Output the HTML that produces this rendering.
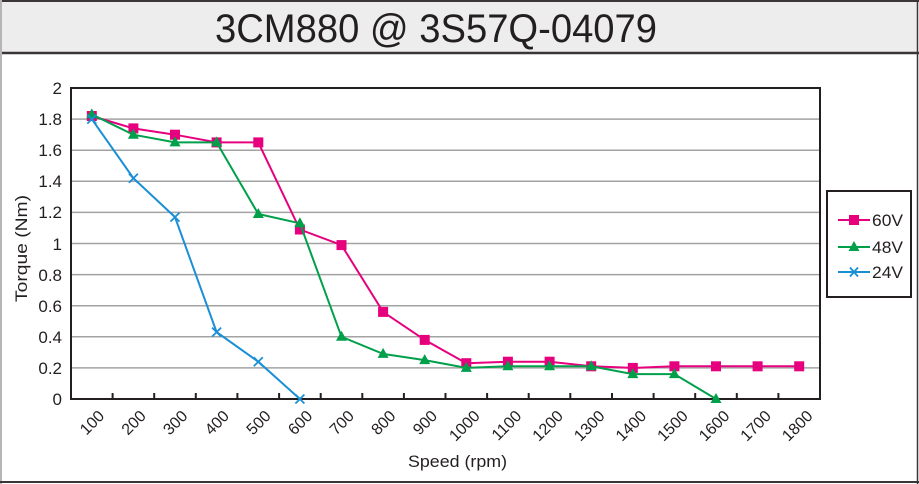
<!DOCTYPE html>
<html><head><meta charset="utf-8"><style>
html,body{margin:0;padding:0;background:#fff;}
svg{display:block;}
text{font-family:"Liberation Sans","Noto Sans CJK JP",sans-serif;fill:#231f20;}
</style></head><body>
<svg width="919" height="484" viewBox="0 0 919 484" xmlns="http://www.w3.org/2000/svg">
<rect x="0" y="0" width="919" height="484" fill="#fff"/>
<!-- title bar -->
<rect x="1" y="1" width="916" height="52" fill="#ecedec"/>
<line x1="0" y1="1" x2="919" y2="1" stroke="#3a3536" stroke-width="2"/>
<line x1="0" y1="53" x2="919" y2="53" stroke="#3a3536" stroke-width="2.5"/>
<line x1="1" y1="0" x2="1" y2="484" stroke="#b5b5b5" stroke-width="2"/>
<line x1="917.5" y1="0" x2="917.5" y2="484" stroke="#3a3536" stroke-width="1.5"/>
<line x1="0" y1="482" x2="919" y2="482" stroke="#3a3536" stroke-width="2"/>
<text x="215" y="42" font-size="40" textLength="442" lengthAdjust="spacingAndGlyphs">3CM880 @ 3S57Q-04079</text>

<!-- gridlines -->
<g stroke="#a3a3a3" stroke-width="1.5">
<line x1="71" y1="367.9" x2="820" y2="367.9"/>
<line x1="71" y1="336.8" x2="820" y2="336.8"/>
<line x1="71" y1="305.7" x2="820" y2="305.7"/>
<line x1="71" y1="274.6" x2="820" y2="274.6"/>
<line x1="71" y1="243.5" x2="820" y2="243.5"/>
<line x1="71" y1="212.4" x2="820" y2="212.4"/>
<line x1="71" y1="181.3" x2="820" y2="181.3"/>
<line x1="71" y1="150.2" x2="820" y2="150.2"/>
<line x1="71" y1="119.1" x2="820" y2="119.1"/>
</g>
<!-- plot border -->
<rect x="71" y="88" width="749" height="311" fill="none" stroke="#231f20" stroke-width="2"/>
<!-- x ticks -->
<g stroke="#231f20" stroke-width="2">
<line x1="112.6" y1="393" x2="112.6" y2="399"/>
<line x1="154.2" y1="393" x2="154.2" y2="399"/>
<line x1="195.8" y1="393" x2="195.8" y2="399"/>
<line x1="237.4" y1="393" x2="237.4" y2="399"/>
<line x1="279.1" y1="393" x2="279.1" y2="399"/>
<line x1="320.7" y1="393" x2="320.7" y2="399"/>
<line x1="362.3" y1="393" x2="362.3" y2="399"/>
<line x1="403.9" y1="393" x2="403.9" y2="399"/>
<line x1="445.5" y1="393" x2="445.5" y2="399"/>
<line x1="487.1" y1="393" x2="487.1" y2="399"/>
<line x1="528.7" y1="393" x2="528.7" y2="399"/>
<line x1="570.3" y1="393" x2="570.3" y2="399"/>
<line x1="612.0" y1="393" x2="612.0" y2="399"/>
<line x1="653.6" y1="393" x2="653.6" y2="399"/>
<line x1="695.2" y1="393" x2="695.2" y2="399"/>
<line x1="736.8" y1="393" x2="736.8" y2="399"/>
<line x1="778.4" y1="393" x2="778.4" y2="399"/>
</g>
<!-- y labels -->
<g font-size="17" text-anchor="end">
<text x="62" y="405">0</text>
<text x="62" y="374">0.2</text>
<text x="62" y="343">0.4</text>
<text x="62" y="312">0.6</text>
<text x="62" y="281">0.8</text>
<text x="62" y="250">1</text>
<text x="62" y="218">1.2</text>
<text x="62" y="187">1.4</text>
<text x="62" y="156">1.6</text>
<text x="62" y="125">1.8</text>
<text x="62" y="94">2</text>
</g>
<!-- x labels -->
<g font-size="16" text-anchor="end">
<text transform="translate(105.3,417) rotate(-45)">100</text>
<text transform="translate(146.9,417) rotate(-45)">200</text>
<text transform="translate(188.5,417) rotate(-45)">300</text>
<text transform="translate(230.1,417) rotate(-45)">400</text>
<text transform="translate(271.8,417) rotate(-45)">500</text>
<text transform="translate(313.4,417) rotate(-45)">600</text>
<text transform="translate(355.0,417) rotate(-45)">700</text>
<text transform="translate(396.6,417) rotate(-45)">800</text>
<text transform="translate(438.2,417) rotate(-45)">900</text>
<text transform="translate(480.8,417) rotate(-45)">1000</text>
<text transform="translate(522.4,417) rotate(-45)">1100</text>
<text transform="translate(564.1,417) rotate(-45)">1200</text>
<text transform="translate(605.7,417) rotate(-45)">1300</text>
<text transform="translate(647.3,417) rotate(-45)">1400</text>
<text transform="translate(688.9,417) rotate(-45)">1500</text>
<text transform="translate(730.5,417) rotate(-45)">1600</text>
<text transform="translate(772.1,417) rotate(-45)">1700</text>
<text transform="translate(813.7,417) rotate(-45)">1800</text>
</g>
<text x="408" y="467" font-size="17" textLength="99" lengthAdjust="spacingAndGlyphs">Speed (rpm)</text>
<text transform="translate(27,302) rotate(-90)" font-size="17" textLength="107" lengthAdjust="spacingAndGlyphs">Torque (Nm)</text>

<!-- 60V -->
<polyline fill="none" stroke="#e6007e" stroke-width="2" points="91.8,116.0 133.4,128.4 175.0,134.7 216.6,142.4 258.3,142.4 299.9,229.5 341.5,245.1 383.1,311.9 424.7,339.9 466.3,363.2 507.9,361.7 549.6,361.7 591.2,366.3 632.8,367.9 674.4,366.3 716.0,366.3 757.6,366.3 799.2,366.3"/>
<g fill="#e6007e">
<rect x="86.8" y="111.0" width="10" height="10"/>
<rect x="128.4" y="123.4" width="10" height="10"/>
<rect x="170.0" y="129.7" width="10" height="10"/>
<rect x="211.6" y="137.4" width="10" height="10"/>
<rect x="253.3" y="137.4" width="10" height="10"/>
<rect x="294.9" y="224.5" width="10" height="10"/>
<rect x="336.5" y="240.1" width="10" height="10"/>
<rect x="378.1" y="306.9" width="10" height="10"/>
<rect x="419.7" y="334.9" width="10" height="10"/>
<rect x="461.3" y="358.2" width="10" height="10"/>
<rect x="502.9" y="356.7" width="10" height="10"/>
<rect x="544.6" y="356.7" width="10" height="10"/>
<rect x="586.2" y="361.3" width="10" height="10"/>
<rect x="627.8" y="362.9" width="10" height="10"/>
<rect x="669.4" y="361.3" width="10" height="10"/>
<rect x="711.0" y="361.3" width="10" height="10"/>
<rect x="752.6" y="361.3" width="10" height="10"/>
<rect x="794.2" y="361.3" width="10" height="10"/>
</g>

<!-- 48V -->
<polyline fill="none" stroke="#00a04b" stroke-width="2" points="91.8,114.4 133.4,134.7 175.0,142.4 216.6,142.4 258.3,214.0 299.9,223.3 341.5,336.8 383.1,353.9 424.7,360.1 466.3,367.9 507.9,366.3 549.6,366.3 591.2,366.3 632.8,374.1 674.4,374.1 716.0,399"/>
<g fill="#00a04b">
<polygon points="91.8,108.4 97.3,118.4 86.3,118.4"/>
<polygon points="133.4,128.7 138.9,138.7 127.9,138.7"/>
<polygon points="175.0,136.4 180.5,146.4 169.5,146.4"/>
<polygon points="216.6,136.4 222.1,146.4 211.1,146.4"/>
<polygon points="258.3,208.0 263.8,218.0 252.8,218.0"/>
<polygon points="299.9,217.3 305.4,227.3 294.4,227.3"/>
<polygon points="341.5,330.8 347.0,340.8 336.0,340.8"/>
<polygon points="383.1,347.9 388.6,357.9 377.6,357.9"/>
<polygon points="424.7,354.1 430.2,364.1 419.2,364.1"/>
<polygon points="466.3,361.9 471.8,371.9 460.8,371.9"/>
<polygon points="507.9,360.3 513.4,370.3 502.4,370.3"/>
<polygon points="549.6,360.3 555.1,370.3 544.1,370.3"/>
<polygon points="591.2,360.3 596.7,370.3 585.7,370.3"/>
<polygon points="632.8,368.1 638.3,378.1 627.3,378.1"/>
<polygon points="674.4,368.1 679.9,378.1 668.9,378.1"/>
<polygon points="716.0,393 721.5,403 710.5,403"/>
</g>

<!-- 24V -->
<polyline fill="none" stroke="#1a8fd6" stroke-width="2" points="91.8,119.1 133.4,178.2 175.0,217.1 216.6,332.1 258.3,361.7 299.9,399"/>
<g stroke="#1a8fd6" stroke-width="1.8">
<path d="M87.3,114.6 L96.3,123.6 M96.3,114.6 L87.3,123.6"/>
<path d="M128.9,173.7 L137.9,182.7 M137.9,173.7 L128.9,182.7"/>
<path d="M170.5,212.6 L179.5,221.6 M179.5,212.6 L170.5,221.6"/>
<path d="M212.1,327.6 L221.1,336.6 M221.1,327.6 L212.1,336.6"/>
<path d="M253.8,357.2 L262.8,366.2 M262.8,357.2 L253.8,366.2"/>
<path d="M295.4,394.5 L304.4,403.5 M304.4,394.5 L295.4,403.5"/>
</g>

<!-- legend -->
<rect x="827" y="191" width="84" height="106" fill="#fff" stroke="#231f20" stroke-width="2"/>
<line x1="838" y1="220" x2="870" y2="220" stroke="#e6007e" stroke-width="2"/>
<rect x="849" y="215" width="10" height="10" fill="#e6007e"/>
<line x1="838" y1="247" x2="870" y2="247" stroke="#00a04b" stroke-width="2"/>
<polygon points="854,241 859.5,251 848.5,251" fill="#00a04b"/>
<line x1="838" y1="272" x2="870" y2="272" stroke="#1a8fd6" stroke-width="2"/>
<path d="M850,267.5 L858,276.5 M858,267.5 L850,276.5" stroke="#1a8fd6" stroke-width="1.8"/>
<g font-size="17">
<text x="872" y="226" textLength="31" lengthAdjust="spacingAndGlyphs">60V</text>
<text x="872" y="253" textLength="31" lengthAdjust="spacingAndGlyphs">48V</text>
<text x="872" y="278" textLength="31" lengthAdjust="spacingAndGlyphs">24V</text>
</g>
</svg>
</body></html>
